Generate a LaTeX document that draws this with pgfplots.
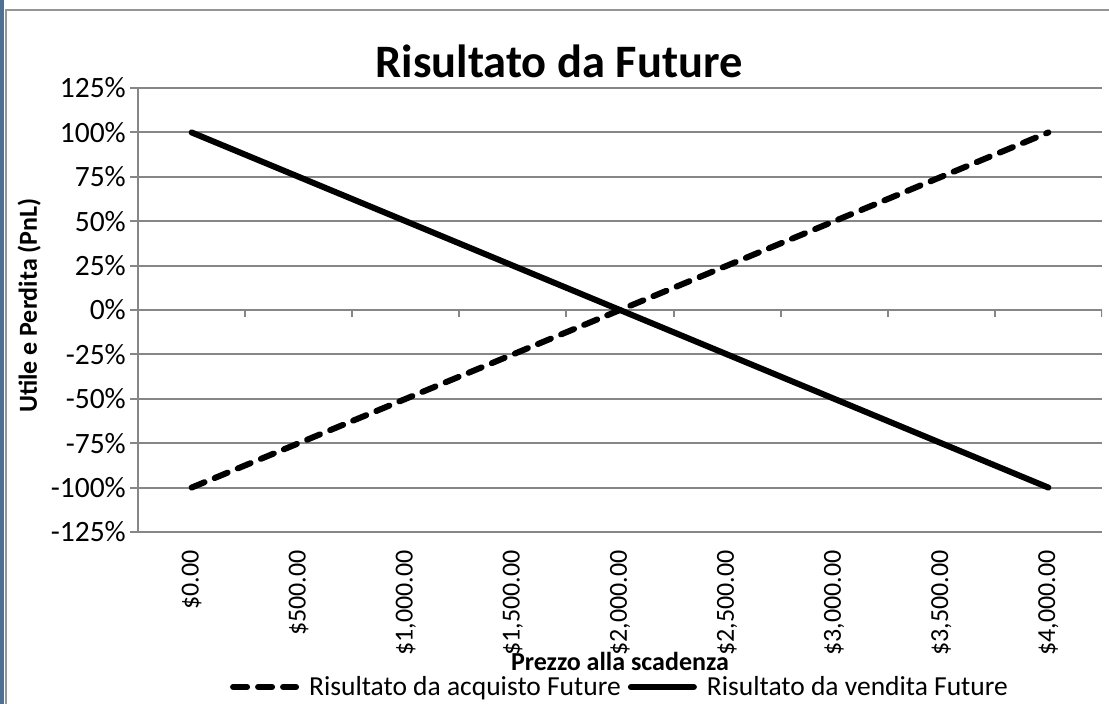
\documentclass[border=0pt]{standalone}
\usepackage{fontspec}
\setmainfont{Carlito}
\usepackage{pgfplots}
\pgfplotsset{compat=1.18}
\definecolor{gridgray}{RGB}{134,134,134}
\definecolor{framegray}{RGB}{150,150,150}
\definecolor{barblue}{RGB}{79,112,146}
\newcommand{\tickfont}{\fontsize{26}{30}\selectfont}
\begin{document}
\begin{tikzpicture}
\useasboundingbox (0pt,0pt) rectangle (1109pt,-704pt);
\fill[white] (0pt,0pt) rectangle (1109pt,-704pt);
\fill[barblue] (0pt,0pt) rectangle (3.5pt,-704pt);
\draw[framegray, line width=2pt] (6pt,-704pt) -- (6pt,-10pt) -- (1109pt,-10pt);
\node[anchor=base, font=\fontsize{46.5}{50}\selectfont\bfseries] at (559pt,-77pt) {Risultato da Future};
\begin{axis}[
  at={(138pt,-532pt)}, anchor=south west,
  width=964pt, height=444pt, scale only axis,
  xmin=-0.5, xmax=8.5, ymin=-125, ymax=125,
  axis lines*=left,
  x axis line style={draw=none},
  y axis line style={gridgray, line width=2pt},
  xtick={0,1,2,3,4,5,6,7,8},
  xticklabels={{\$0.00},{\$500.00},{\$1,000.00},{\$1,500.00},{\$2,000.00},{\$2,500.00},{\$3,000.00},{\$3,500.00},{\$4,000.00}},
  x tick label style={rotate=90, anchor=east, inner xsep=10pt, inner ysep=0pt, font=\tickfont},
  xtick style={draw=none},
  ytick={-125,-100,-75,-50,-25,0,25,50,75,100,125},
  yticklabel={\pgfmathprintnumber[assume math mode=true]{\tick}\%},
  y tick label style={font=\fontsize{29.5}{33}\selectfont, inner xsep=4pt},
  tick align=outside,
  major tick length=8pt,
  ytick style={gridgray, line width=2pt},
  ymajorgrids,
  grid style={gridgray, line width=2pt},
  ylabel={Utile e Perdita (PnL)},
  ylabel style={at={(axis description cs:-0.1048,0.51)}, anchor=base, font=\fontsize{26}{30}\selectfont\bfseries},
  xlabel={Prezzo alla scadenza},
  xlabel style={at={(axis description cs:0.5,-0.3108)}, anchor=base, font=\fontsize{26}{30}\selectfont\bfseries},
  legend style={at={(0.5,-0.349)}, anchor=center, draw=none, fill=none, font=\fontsize{27.5}{31}\selectfont,
    legend columns=2,
    /tikz/every odd column/.append style={column sep=8pt},
    /tikz/every even column/.append style={column sep=5pt}},
  legend image code/.code={\draw[#1] (0pt,0pt) -- (63pt,0pt);},
]
\draw[gridgray, line width=2pt] (axis cs:-0.5,0) -- (axis cs:8.5,0);
\pgfplotsinvokeforeach{-0.5,0.5,1.5,2.5,3.5,4.5,5.5,6.5,7.5,8.5}{
  \draw[gridgray, line width=2pt] (axis cs:#1,0) -- ++(0pt,-7pt);
}
\addplot[black, line width=6pt, line cap=round, dash pattern=on 14pt off 11pt]
  coordinates {(0,-100) (1,-75) (2,-50) (3,-25) (4,0) (5,25) (6,50) (7,75) (8,100)};
\addlegendentry{Risultato da acquisto Future}
\addplot[black, line width=6pt, line cap=round]
  coordinates {(0,100) (1,75) (2,50) (3,25) (4,0) (5,-25) (6,-50) (7,-75) (8,-100)};
\addlegendentry{Risultato da vendita Future}
\end{axis}
\end{tikzpicture}
\end{document}
